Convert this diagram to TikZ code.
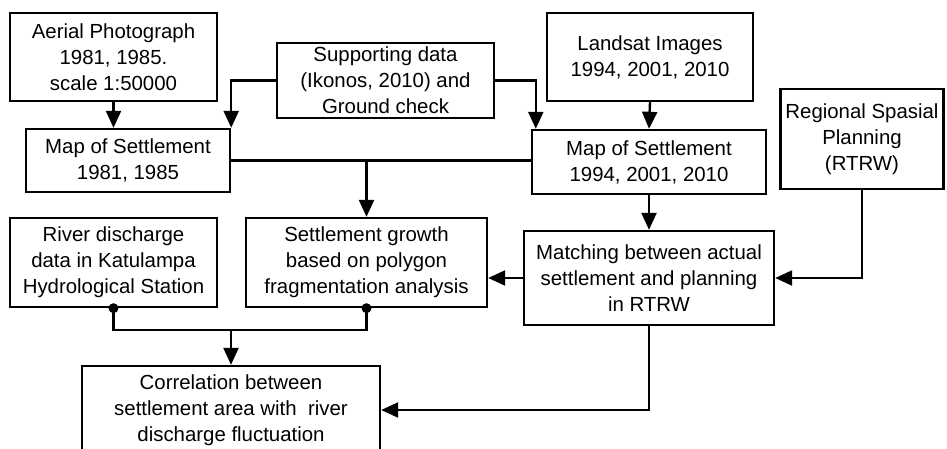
\documentclass[tikz,border=0pt]{standalone}
\usepackage{fontspec}
\setmainfont{Liberation Sans}
\usetikzlibrary{arrows.meta}
\begin{document}
\begin{tikzpicture}[x=1pt,y=-1pt,
  box/.style={draw,line width=2.4pt,inner sep=0pt,align=center,
    font=\fontsize{20.4}{26}\selectfont},
  arr/.style={line width=2.4pt,-{Triangle[length=17pt,width=15pt]}},
  ln/.style={line width=2.4pt},
  dot/.style={circle,fill,inner sep=0pt,minimum size=10pt}]
\useasboundingbox (0,0) rectangle (947,449);
\node[box,minimum width=207pt,minimum height=88pt] (aerial) at (113.5,57) {Aerial Photograph\\1981, 1985.\\scale 1:50000};
\node[box,minimum width=217pt,minimum height=75pt] (support) at (385.5,80.5) {Supporting data\\(Ikonos, 2010) and\\Ground check};
\node[box,minimum width=204pt,minimum height=63pt] (map1) at (128,160.5) {Map of Settlement\\1981, 1985};
\node[box,minimum width=206pt,minimum height=88pt] (landsat) at (650,57) {Landsat Images\\1994, 2001, 2010};
\node[box,minimum width=234pt,minimum height=64pt] (map2) at (649,162) {Map of Settlement\\1994, 2001, 2010};
\node[box,minimum width=163pt,minimum height=100pt] (regional) at (862,139) {Regional Spasial\\Planning\\(RTRW)};
\node[box,minimum width=207pt,minimum height=89pt] (river) at (113.5,262.5) {River discharge\\data in Katulampa\\Hydrological Station};
\node[box,minimum width=241pt,minimum height=89pt] (growth) at (366.5,262.5) {Settlement growth\\based on polygon\\fragmentation analysis};
\node[box,minimum width=250pt,minimum height=94pt] (match) at (649,278) {Matching between actual\\settlement and planning\\in RTRW};
\node[box,minimum width=298pt,minimum height=88pt] (corr) at (231,410) {Correlation between\\settlement area with~ river\\discharge fluctuation};
% connectors
\draw[arr] (aerial.south) -- (aerial.south |- map1.north);
\draw[arr] (support.west) -| (map1.north east);
\draw[arr] (support.east) -| ([xshift=5pt]map2.north west);
\draw[arr] (landsat.south) -- (map2.north);
\coordinate (j1) at (growth.north |- map1.east);
\draw[ln] (map1.east) -- (map2.west |- map1.east);
\draw[arr] (j1) -- (growth.north);
\draw[arr] (map2.south) -- (match.north);
\draw[arr] (regional.south) |- (match.east);
\draw[arr] (match.west) -- (match.west -| growth.east);
\draw[arr] (match.south) |- (corr.east);
\node[dot] (d1) at (river.south) {};
\node[dot] (d2) at (growth.south) {};
\coordinate (j2) at ([yshift=-22pt]river.south);
\draw[ln] (d1.center) -- (j2) -| (d2.center);
\draw[arr] (corr.north |- j2) -- (corr.north);
\end{tikzpicture}
\end{document}
